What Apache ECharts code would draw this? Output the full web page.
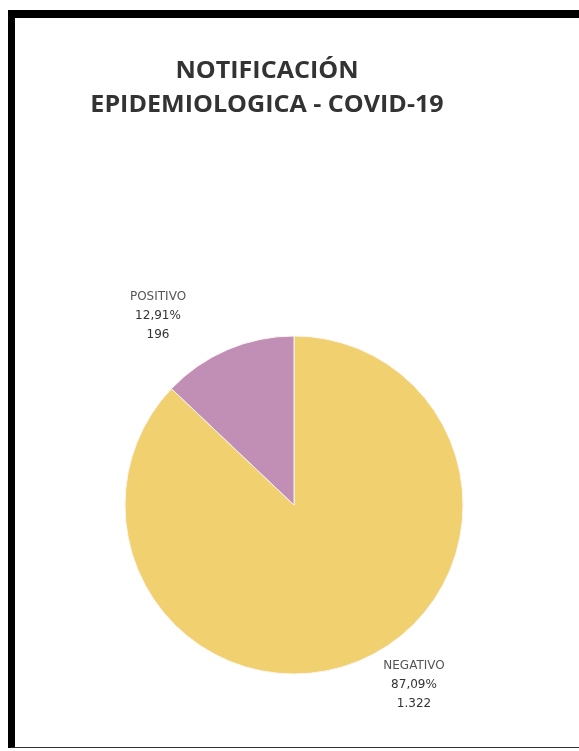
<!DOCTYPE html>
<html>
<head>
<meta charset="utf-8">
<script src="https://cdn.jsdelivr.net/npm/echarts@6/dist/echarts.min.js"></script>
<style>
  html, body { margin: 0; padding: 0; background: #ffffff; }
  #frame { position: absolute; left: 8px; top: 10px; width: 571px; height: 738px;
           border-top: 8px solid #000; border-left: 7px solid #000; border-bottom: 1px solid #333;
           box-sizing: border-box; background: #fff; }
  #main { position: absolute; left: 0; top: 0; width: 579px; height: 751px; }
</style>
</head>
<body>
<div id="frame"></div>
<div id="main"></div>
<script>
const titleLines = ['NOTIFICACIÓN', 'EPIDEMIOLOGICA - COVID-19'];
const categories = ['NEGATIVO', 'POSITIVO'];
const values = [1322, 196];
const percentLabels = ['87,09%', '12,91%'];
const valueLabels = ['1.322', '196'];
const colors = ['#F0D06F', '#C18FB5'];

const chart = echarts.init(document.getElementById('main'), null, { renderer: 'canvas' });
const labelPos = [[414, 685], [158, 316]];

chart.setOption({
  backgroundColor: 'transparent',
  animation: false,
  graphic: titleLines.map((t, i) => ({
    type: 'text',
    x: 267,
    y: 71 + i * 34,
    scaleX: 1.09,
    silent: true,
    style: {
      text: t,
      fontFamily: 'Open Sans',
      fontWeight: 'bold',
      fontSize: 23,
      fill: '#333333',
      textAlign: 'center',
      textVerticalAlign: 'middle'
    }
  })),
  series: [{
    type: 'pie',
    center: [294, 505],
    radius: [0, 169],
    startAngle: 90,
    clockwise: true,
    data: categories.map((c, i) => ({ name: c, value: values[i], itemStyle: { color: colors[i] } })),
    itemStyle: { borderColor: '#fbf4f0', borderWidth: 1 },
    label: {
      show: true,
      position: 'outside',
      formatter: p => '{n|' + p.name + '}\n' + percentLabels[p.dataIndex] + '\n' + valueLabels[p.dataIndex],
      fontFamily: 'DejaVu Sans',
      fontSize: 12,
      lineHeight: 19,
      color: '#333333',
      align: 'center',
      rich: { n: { fontFamily: 'DejaVu Sans', fontSize: 12, lineHeight: 19, color: '#555555', align: 'center' } }
    },
    labelLine: { show: false },
    labelLayout: p => ({ x: labelPos[p.dataIndex][0], y: labelPos[p.dataIndex][1], align: 'center', verticalAlign: 'middle' })
  }]
});
</script>
</body>
</html>
